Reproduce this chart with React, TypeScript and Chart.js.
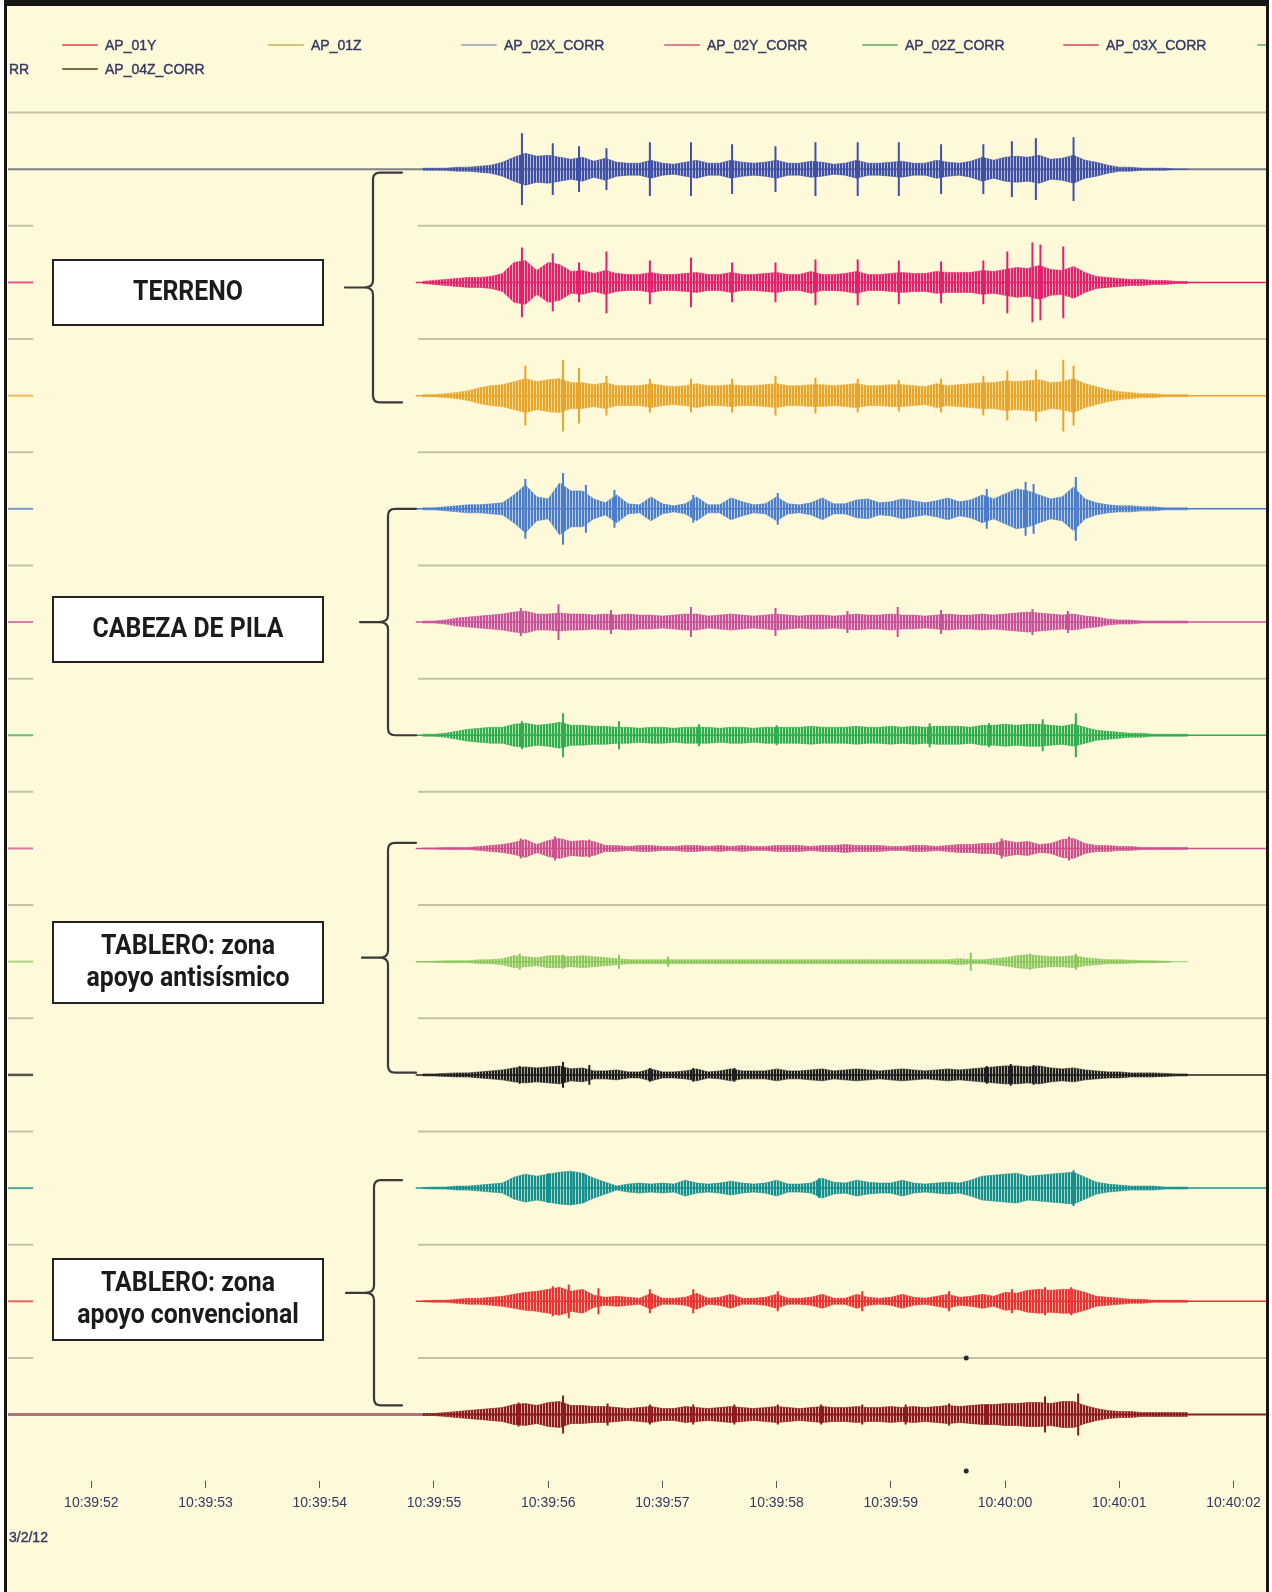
import React, { useEffect, useRef } from "react";
import { Chart, registerables } from "chart.js";

Chart.register(...registerables);

const W = 1272;
const H = 1592;

// ---- axis ----
const TICK_SECONDS = [52, 53, 54, 55, 56, 57, 58, 59, 60, 61, 62];
const TICK_LABELS = ["10:39:52", "10:39:53", "10:39:54", "10:39:55", "10:39:56", "10:39:57", "10:39:58", "10:39:59", "10:40:00", "10:40:01", "10:40:02"];
const DATE_LABEL = "3/2/12";
const X_MIN = 51.27;
const X_MAX = 62.285;
const Y_MIN = -1.424;
const Y_MAX = 11.589;
const AMP_PER_ROW = 113.7;

// ---- legend (as visible, scrolled) ----
const LEGEND_ROW1_LABELS = ["AP_01Y", "AP_01Z", "AP_02X_CORR", "AP_02Y_CORR", "AP_02Z_CORR", "AP_03X_CORR"];
const LEGEND_ROW1_COLORS = ["#e86c6c", "#d9c274", "#a9b7c2", "#e3818f", "#82c182", "#e3717f"];
const LEGEND_ROW2_LABELS = ["AP_04Z_CORR"];
const LEGEND_ROW2_COLORS = ["#7b6b3b"];

// ---- traces ----
const TRACE_LABELS = ["AP_01X", "AP_01Y", "AP_01Z", "AP_02X_CORR", "AP_02Y_CORR", "AP_02Z_CORR", "AP_03X_CORR", "AP_03Y_CORR", "AP_03Z_CORR", "AP_04X_CORR", "AP_04Y_CORR", "AP_04Z_CORR"];
const TRACE_COLORS = ["#3d4fa8", "#e3206e", "#e9a52a", "#4a7dcc", "#c9519c", "#2fae4e", "#cc4f8e", "#8cc85e", "#1e1e1e", "#16908e", "#ea3232", "#8c1a1e"];
const TRACE_START = [51.27, 54.84, 54.84, 54.84, 54.84, 54.84, 54.84, 54.84, 54.84, 54.84, 54.84, 51.27];
const TRACE_END = [62.285, 62.285, 62.285, 62.285, 62.285, 62.285, 62.285, 61.45, 62.285, 62.285, 62.285, 62.285];

// envelope (half amplitude) sampled every 0.1 s from 10:39:54.9
const ENV_START = 54.9;
const ENV_STEP = 0.1;

const AP01X_ENV = [1, 1, 1, 2, 2, 3, 4, 7, 12, 16, 13, 14, 12, 10, 12, 8, 11, 7, 6, 6, 9, 6, 5, 7, 9, 6, 6, 9, 7, 6, 7, 9, 6, 6, 8, 7, 5, 6, 9, 6, 6, 7, 8, 6, 6, 9, 7, 6, 8, 12, 9, 12, 13, 12, 14, 10, 11, 14, 9, 7, 4, 2, 2, 1, 1, 1, 0, 0];
const AP01Y_ENV = [1, 2, 3, 4, 5, 5, 6, 9, 20, 22, 12, 20, 18, 11, 12, 9, 12, 9, 8, 8, 10, 8, 8, 9, 10, 8, 8, 10, 8, 8, 9, 10, 8, 8, 11, 8, 8, 9, 11, 8, 8, 9, 10, 9, 9, 11, 10, 10, 10, 12, 11, 13, 15, 14, 17, 13, 12, 16, 10, 6, 5, 4, 3, 3, 2, 2, 1, 1];
const AP01Z_ENV = [1, 1, 2, 3, 5, 8, 10, 11, 14, 17, 14, 16, 17, 13, 13, 11, 13, 10, 10, 10, 12, 10, 9, 10, 12, 10, 10, 11, 10, 10, 11, 12, 10, 10, 11, 11, 10, 11, 12, 10, 10, 11, 11, 10, 9, 12, 10, 11, 12, 13, 13, 15, 14, 15, 16, 13, 14, 17, 12, 9, 6, 4, 3, 2, 2, 1, 1, 1];
const AP02X_ENV = [1, 1, 2, 3, 4, 4, 5, 6, 14, 24, 12, 10, 26, 18, 18, 10, 6, 14, 5, 4, 12, 5, 3, 5, 12, 4, 4, 11, 7, 4, 5, 12, 5, 4, 6, 11, 5, 5, 9, 10, 6, 7, 10, 8, 6, 8, 11, 7, 9, 14, 10, 15, 20, 18, 14, 10, 12, 22, 10, 6, 4, 3, 3, 2, 2, 1, 1, 1];
const AP02Y_ENV = [1, 1, 2, 4, 5, 6, 7, 8, 10, 11, 8, 8, 9, 8, 8, 7, 8, 7, 8, 7, 7, 6, 7, 8, 8, 6, 7, 8, 7, 6, 7, 8, 7, 6, 7, 7, 6, 7, 8, 7, 7, 8, 7, 7, 6, 7, 8, 7, 7, 8, 7, 8, 9, 10, 9, 8, 7, 8, 6, 5, 3, 2, 2, 1, 1, 1, 1, 1];
const AP02Z_ENV = [1, 1, 2, 4, 6, 7, 8, 8, 11, 12, 10, 11, 13, 10, 10, 9, 9, 8, 8, 7, 8, 8, 7, 8, 8, 8, 7, 8, 8, 7, 8, 8, 8, 8, 9, 8, 8, 8, 9, 8, 8, 9, 8, 9, 8, 9, 9, 9, 8, 10, 10, 11, 10, 11, 11, 10, 9, 11, 8, 5, 4, 3, 2, 2, 1, 1, 1, 1];
const AP03X_ENV = [0.5, 0.5, 1, 1, 1, 2, 3, 4, 6, 9, 4, 8, 10, 7, 8, 7, 3, 3, 2, 3, 3, 2, 2, 3, 3, 2, 3, 2, 3, 2, 2, 3, 3, 3, 2, 3, 3, 4, 3, 3, 3, 2, 2, 3, 3, 2, 3, 4, 4, 5, 5, 8, 6, 7, 4, 5, 9, 10, 5, 3, 3, 2, 2, 1, 1, 1, 1, 1];
const AP03Y_ENV = [0, 0.5, 1, 1, 1, 2, 2, 3, 6, 5, 4, 6, 6, 5, 6, 5, 4, 3, 2, 2, 2, 2, 2, 2, 2, 2, 2, 2, 2, 2, 2, 2, 2, 2, 2, 2, 2, 2, 2, 2, 2, 2, 2, 2, 2, 2, 2, 3, 2, 2, 3, 4, 6, 7, 6, 5, 5, 6, 4, 3, 2, 2, 1.5, 1, 1, 0.5, 0, 0];
const AP03Z_ENV = [1, 1, 1.5, 2, 2, 3, 4, 5, 7, 8, 7, 8, 9, 6, 7, 4, 4, 5, 3, 3, 6, 3, 3, 4, 6, 3, 4, 6, 4, 4, 4, 6, 4, 4, 5, 6, 4, 5, 6, 5, 4, 5, 6, 5, 4, 5, 6, 5, 6, 7, 8, 9, 9, 8, 9, 7, 6, 7, 5, 4, 3, 3, 2, 2, 2, 1.5, 1, 1];
const AP04X_ENV = [0.5, 1, 1, 2, 2, 3, 4, 5, 11, 14, 12, 14, 16, 17, 15, 10, 6, 2, 4, 5, 4, 5, 4, 8, 5, 4, 5, 7, 5, 4, 5, 8, 4, 4, 5, 10, 6, 5, 8, 6, 5, 5, 8, 5, 4, 5, 6, 5, 8, 12, 13, 14, 15, 12, 13, 14, 15, 16, 11, 6, 4, 3, 2, 2, 2, 1, 1, 1];
const AP04Y_ENV = [0.5, 1, 1, 2, 3, 3, 4, 5, 7, 9, 10, 12, 14, 10, 12, 6, 4, 5, 4, 3, 8, 3, 3, 4, 8, 3, 4, 7, 3, 3, 4, 7, 3, 3, 4, 7, 3, 3, 7, 4, 3, 4, 7, 4, 3, 5, 7, 4, 5, 7, 5, 9, 8, 11, 12, 11, 12, 12, 9, 5, 4, 3, 2, 2, 1, 1, 1, 1];
const AP04Z_ENV = [1, 1, 2, 3, 4, 5, 6, 7, 10, 11, 9, 12, 13, 9, 9, 8, 8, 7, 6, 7, 8, 6, 6, 8, 7, 6, 7, 8, 7, 6, 7, 8, 7, 6, 7, 8, 7, 7, 8, 7, 7, 8, 7, 8, 7, 8, 9, 8, 9, 10, 10, 11, 11, 12, 12, 11, 13, 13, 9, 6, 4, 3, 3, 2, 2, 2, 2, 2];

// peaks (time in s after 10:39:00, half amplitude)
const AP01X_PEAK_T = [55.77, 56.04, 56.27, 56.51, 56.89, 57.25, 57.61, 57.99, 58.34, 58.71, 59.07, 59.44, 59.81, 60.06, 60.27, 60.6];
const AP01X_PEAK_A = [36, 26, 23, 21, 27, 27, 25, 23, 27, 27, 27, 25, 25, 28, 31, 32];
const AP01Y_PEAK_T = [55.77, 56.04, 56.27, 56.51, 56.89, 57.25, 57.61, 57.99, 58.34, 58.71, 59.07, 59.44, 59.81, 60.02, 60.24, 60.31, 60.51];
const AP01Y_PEAK_A = [35, 29, 20, 31, 22, 25, 20, 20, 23, 23, 22, 21, 22, 31, 40, 38, 36];
const AP01Z_PEAK_T = [55.8, 56.13, 56.27, 56.51, 56.89, 57.25, 57.61, 57.99, 58.34, 58.71, 59.07, 59.44, 59.81, 60.02, 60.27, 60.51, 60.6];
const AP01Z_PEAK_A = [30, 36, 28, 20, 17, 17, 17, 20, 18, 17, 16, 17, 20, 25, 26, 36, 30];
const AP02X_PEAK_T = [55.8, 56.13, 56.33, 56.58, 57.27, 58.01, 59.84, 60.18, 60.25, 60.62];
const AP02X_PEAK_A = [30, 36, 24, 19, 14, 16, 20, 27, 25, 32];
const AP02Y_PEAK_T = [55.76, 56.09, 56.55, 57.25, 57.99, 58.62, 59.06, 59.44, 60.24, 60.55];
const AP02Y_PEAK_A = [14, 18, 12, 15, 14, 11, 15, 12, 13, 11];
const AP02Z_PEAK_T = [55.77, 56.13, 56.62, 57.32, 58.0, 59.34, 59.86, 60.33, 60.62];
const AP02Z_PEAK_A = [14, 22, 14, 11, 10, 12, 12, 16, 22];
const AP03X_PEAK_T = [55.76, 56.06, 56.36, 59.97, 60.56];
const AP03X_PEAK_A = [10, 12, 9, 10, 12];
const AP03Y_PEAK_T = [55.75, 56.13, 56.62, 57.05, 59.7, 60.22, 60.62];
const AP03Y_PEAK_A = [8, 7, 7, 5, 9, 8, 8];
const AP03Z_PEAK_T = [55.75, 56.13, 56.36, 56.89, 57.27, 57.63, 59.84, 60.05, 60.25];
const AP03Z_PEAK_A = [9, 13, 10, 7, 7, 7, 9, 11, 10];
const AP04X_PEAK_T = [56.0, 56.22, 56.31, 58.37, 60.6];
const AP04X_PEAK_A = [15, 16, 15, 10, 18];
const AP04Y_PEAK_T = [56.04, 56.18, 56.44, 56.89, 57.27, 58.01, 58.75, 59.51, 60.06, 60.35, 60.58];
const AP04Y_PEAK_A = [15, 17, 13, 12, 12, 10, 10, 10, 12, 14, 14];
const AP04Z_PEAK_T = [55.74, 56.13, 56.52, 56.89, 57.27, 57.63, 58.01, 58.39, 58.75, 59.13, 59.51, 59.84, 60.35, 60.64];
const AP04Z_PEAK_A = [12, 19, 11, 10, 10, 10, 10, 10, 10, 10, 11, 10, 18, 21];

// stray marker dots
const MARKER_T = [59.66, 59.66];
const MARKER_ROW = [10.5, 11.5];

const ENVELOPES = [AP01X_ENV, AP01Y_ENV, AP01Z_ENV, AP02X_ENV, AP02Y_ENV, AP02Z_ENV, AP03X_ENV, AP03Y_ENV, AP03Z_ENV, AP04X_ENV, AP04Y_ENV, AP04Z_ENV];
const PEAK_T = [AP01X_PEAK_T, AP01Y_PEAK_T, AP01Z_PEAK_T, AP02X_PEAK_T, AP02Y_PEAK_T, AP02Z_PEAK_T, AP03X_PEAK_T, AP03Y_PEAK_T, AP03Z_PEAK_T, AP04X_PEAK_T, AP04Y_PEAK_T, AP04Z_PEAK_T];
const PEAK_A = [AP01X_PEAK_A, AP01Y_PEAK_A, AP01Z_PEAK_A, AP02X_PEAK_A, AP02Y_PEAK_A, AP02Z_PEAK_A, AP03X_PEAK_A, AP03Y_PEAK_A, AP03Z_PEAK_A, AP04X_PEAK_A, AP04Y_PEAK_A, AP04Z_PEAK_A];

// ---- layout / style ----
const BG = "#fef9d9";
const GRID_COLOR = "#c4c2a6";
const TEXT_BLUE = "#343960";
const STUB_END = 51.49;
const GRID_START = 54.86;
const BASE_COLORS = ["#7e8088", null, null, null, null, null, null, null, null, null, null, "#b0707e"];
const BASE_WIDTHS = [2, 1.5, 1.5, 1.5, 1.5, 1.5, 1.5, 1.5, 1.5, 1.5, 1.5, 3];

const BRACES = [
  { x: 373, top: 0.03, bottom: 2.06, tipX: 345, hookX: 402 },
  { x: 388, top: 3.0, bottom: 5.0, tipX: 360, hookX: 416 },
  { x: 388, top: 5.95, bottom: 7.98, tipX: 362, hookX: 416 },
  { x: 374, top: 8.93, bottom: 10.92, tipX: 346, hookX: 402 },
];
const BOXES = [
  { x: 53, y: 260, w: 270, h: 65, lines: ["TERRENO"] },
  { x: 53, y: 597, w: 270, h: 65, lines: ["CABEZA DE PILA"] },
  { x: 53, y: 922, w: 270, h: 81, lines: ["TABLERO: zona", "apoyo antisísmico"] },
  { x: 53, y: 1259, w: 270, h: 81, lines: ["TABLERO: zona", "apoyo convencional"] },
];
const LEGEND_ROW1_X = [63, 269, 462, 665, 863, 1064];
const LEGEND_ROW2_X = [63];

function hexToRgba(hex: string, a: number) {
  const n = parseInt(hex.slice(1), 16);
  return `rgba(${(n >> 16) & 255},${(n >> 8) & 255},${n & 255},${a})`;
}

function stripePattern(color: string): CanvasPattern | string {
  const c = document.createElement("canvas");
  c.width = 3;
  c.height = 4;
  const g = c.getContext("2d");
  if (!g) return color;
  g.fillStyle = color;
  g.fillRect(0, 0, 2, 4);
  g.fillStyle = hexToRgba(color, 0.35);
  g.fillRect(2, 0, 1, 4);
  const p = g.createPattern(c, "repeat");
  return p || color;
}

function drawBrace(ctx: CanvasRenderingContext2D, x: number, yTop: number, yBot: number, tipX: number, hookX: number) {
  const yMid = (yTop + yBot) / 2;
  const r = 7;
  ctx.beginPath();
  ctx.moveTo(hookX, yTop);
  ctx.lineTo(x + r, yTop);
  ctx.quadraticCurveTo(x, yTop, x, yTop + r);
  ctx.lineTo(x, yMid - 7);
  ctx.quadraticCurveTo(x, yMid, x - 9, yMid);
  ctx.lineTo(tipX, yMid);
  ctx.moveTo(x - 9, yMid);
  ctx.quadraticCurveTo(x, yMid, x, yMid + 7);
  ctx.lineTo(x, yBot - r);
  ctx.quadraticCurveTo(x, yBot, x + r, yBot);
  ctx.lineTo(hookX, yBot);
  ctx.stroke();
}

const backgroundPlugin = {
  id: "bgAndGrid",
  beforeDraw(chart: any) {
    const ctx: CanvasRenderingContext2D = chart.ctx;
    const xs = chart.scales.x;
    const ys = chart.scales.y;
    ctx.save();
    ctx.fillStyle = "#ffffff";
    ctx.fillRect(0, 0, W, H);
    ctx.fillStyle = BG;
    ctx.fillRect(7, 6, 1259, H - 6);
    ctx.lineWidth = 2;
    ctx.strokeStyle = GRID_COLOR;
    const xl = xs.getPixelForValue(X_MIN);
    const xr = xs.getPixelForValue(X_MAX);
    const xStub = xs.getPixelForValue(STUB_END);
    const xGrid = xs.getPixelForValue(GRID_START);
    let y = ys.getPixelForValue(-0.5);
    ctx.beginPath();
    ctx.moveTo(xl, y);
    ctx.lineTo(xr, y);
    ctx.stroke();
    for (let k = 0; k < 11; k++) {
      y = ys.getPixelForValue(k + 0.5);
      ctx.beginPath();
      ctx.moveTo(xl, y);
      ctx.lineTo(xStub, y);
      ctx.moveTo(xGrid, y);
      ctx.lineTo(xr, y);
      ctx.stroke();
    }
    for (let i = 1; i < 11; i++) {
      y = ys.getPixelForValue(i);
      ctx.strokeStyle = TRACE_COLORS[i];
      ctx.globalAlpha = 0.75;
      ctx.lineWidth = i === 8 ? 2.5 : 2;
      ctx.beginPath();
      ctx.moveTo(xl, y);
      ctx.lineTo(xStub, y);
      ctx.stroke();
    }
    ctx.restore();
  },
};

const overlayPlugin = {
  id: "overlay",
  afterDraw(chart: any) {
    const ctx: CanvasRenderingContext2D = chart.ctx;
    const ys = chart.scales.y;
    ctx.save();
    ctx.strokeStyle = "#3a3a3a";
    ctx.lineWidth = 2.2;
    ctx.lineCap = "round";
    BRACES.forEach((b) => {
      drawBrace(ctx, b.x, ys.getPixelForValue(b.top), ys.getPixelForValue(b.bottom), b.tipX, b.hookX);
    });
    BOXES.forEach((b) => {
      ctx.fillStyle = "#ffffff";
      ctx.fillRect(b.x, b.y, b.w, b.h);
      ctx.strokeStyle = "#222222";
      ctx.lineWidth = 2;
      ctx.strokeRect(b.x, b.y, b.w, b.h);
      ctx.fillStyle = "#1b1b1b";
      ctx.font = "bold 27px Roboto";
      ctx.textAlign = "center";
      ctx.textBaseline = "middle";
      const cx = b.x + b.w / 2;
      const cy = b.y + b.h / 2;
      const n = b.lines.length;
      b.lines.forEach((t, i) => {
        ctx.save();
        ctx.translate(cx, cy + (i - (n - 1) / 2) * 32 + 1);
        ctx.scale(0.92, 1);
        ctx.fillText(t, 0, 0);
        ctx.restore();
      });
    });
    ctx.font = "14px 'Liberation Sans'";
    ctx.textAlign = "left";
    ctx.textBaseline = "middle";
    ctx.lineJoin = "round";
    const drawText = (t: string, x: number, y: number) => {
      ctx.fillStyle = TEXT_BLUE;
      ctx.strokeStyle = TEXT_BLUE;
      ctx.lineWidth = 0.4;
      ctx.fillText(t, x, y);
      ctx.strokeText(t, x, y);
    };
    const drawItem = (x: number, y: number, color: string, label: string) => {
      ctx.strokeStyle = color;
      ctx.lineWidth = 2;
      ctx.beginPath();
      ctx.moveTo(x, y);
      ctx.lineTo(x + 34, y);
      ctx.stroke();
      drawText(label, x + 42, y + 1);
    };
    LEGEND_ROW1_LABELS.forEach((l, i) => drawItem(LEGEND_ROW1_X[i], 45, LEGEND_ROW1_COLORS[i], l));
    LEGEND_ROW2_LABELS.forEach((l, i) => drawItem(LEGEND_ROW2_X[i], 69, LEGEND_ROW2_COLORS[i], l));
    ctx.strokeStyle = "#82c182";
    ctx.lineWidth = 2;
    ctx.beginPath();
    ctx.moveTo(1258, 45);
    ctx.lineTo(1266, 45);
    ctx.stroke();
    drawText("RR", 9, 70);
    drawText(DATE_LABEL, 9, 1538);
    ctx.fillStyle = "#161616";
    ctx.fillRect(4, 0, 1265, 6);
    ctx.fillRect(4, 0, 3, H);
    ctx.fillRect(1266, 0, 3, H);
    ctx.restore();
  },
};

function buildDatasets() {
  const envTimes = ENVELOPES[0].map((_, k) => +(ENV_START + ENV_STEP * k).toFixed(2));
  const ds: any[] = [];
  TRACE_LABELS.forEach((label, i) => {
    const color = TRACE_COLORS[i];
    const baseColor = BASE_COLORS[i];
    const baseData = i === 11
      ? [{ x: TRACE_START[i], y: i }, { x: 55.0, y: i }, { x: TRACE_END[i], y: i }]
      : [{ x: TRACE_START[i], y: i }, { x: TRACE_END[i], y: i }];
    ds.push({
      label: label + " base",
      order: 3,
      data: baseData,
      borderColor: baseColor || color,
      borderWidth: BASE_WIDTHS[i],
      pointRadius: 0,
      fill: false,
      segment: i === 11 ? { borderColor: (c: any) => (c.p0DataIndex === 0 ? baseColor : color), borderWidth: (c: any) => (c.p0DataIndex === 0 ? 3 : 2) } : undefined,
    });
    ds.push({
      label: label + " +",
      order: 2,
      data: ENVELOPES[i].map((a, k) => ({ x: envTimes[k], y: i - a / AMP_PER_ROW })),
      borderColor: hexToRgba(color, 0.55),
      borderWidth: 1,
      pointRadius: 0,
      fill: false,
    });
    ds.push({
      label: label,
      order: 2,
      data: ENVELOPES[i].map((a, k) => ({ x: envTimes[k], y: i + a / AMP_PER_ROW })),
      borderColor: hexToRgba(color, 0.55),
      borderWidth: 1,
      backgroundColor: stripePattern(color),
      pointRadius: 0,
      fill: "-1",
    });
    const peaks: any[] = [];
    PEAK_T[i].forEach((t, k) => {
      const a = PEAK_A[i][k] / AMP_PER_ROW;
      peaks.push({ x: t, y: i - a }, { x: t, y: i + a }, { x: t, y: null });
    });
    ds.push({
      label: label + " peaks",
      order: 1,
      data: peaks,
      borderColor: color,
      borderWidth: 2,
      pointRadius: 0,
      fill: false,
      spanGaps: false,
    });
  });
  ds.push({
    type: "scatter",
    label: "markers",
    order: 0,
    data: MARKER_T.map((t, k) => ({ x: t, y: MARKER_ROW[k] })),
    pointRadius: 2.5,
    backgroundColor: "#2a2a2a",
    borderWidth: 0,
  });
  return ds;
}

export default function App() {
  const ref = useRef<HTMLCanvasElement | null>(null);
  useEffect(() => {
    if (!ref.current) return;
    const chart = new Chart(ref.current, {
      type: "line",
      data: { datasets: buildDatasets() },
      options: {
        responsive: false,
        animation: false,
        events: [],
        elements: { line: { tension: 0 } },
        layout: { padding: { left: 8, right: 6, top: 8, bottom: 73 } },
        plugins: {
          legend: { display: false },
          tooltip: { enabled: false },
          title: { display: false },
        },
        scales: {
          x: {
            type: "linear",
            min: X_MIN,
            max: X_MAX,
            afterBuildTicks: (s: any) => {
              s.ticks = TICK_SECONDS.map((v) => ({ value: v }));
            },
            ticks: {
              autoSkip: false,
              maxRotation: 0,
              padding: 7,
              color: TEXT_BLUE,
              font: { family: "'Liberation Sans'", size: 14 },
              callback: (v: any) => TICK_LABELS[TICK_SECONDS.indexOf(Number(v))],
            },
            grid: { drawOnChartArea: false, drawTicks: true, tickLength: 7, color: "#5a5a5a", lineWidth: 1 },
            border: { display: false },
          },
          y: { type: "linear", reverse: true, min: Y_MIN, max: Y_MAX, display: false },
        },
      },
      plugins: [backgroundPlugin, overlayPlugin],
    } as any);
    return () => chart.destroy();
  }, []);
  return (
    <canvas
      ref={ref}
      width={W}
      height={H}
      style={{ position: "absolute", left: 0, top: 0, width: W, height: H, display: "block" }}
    />
  );
}
